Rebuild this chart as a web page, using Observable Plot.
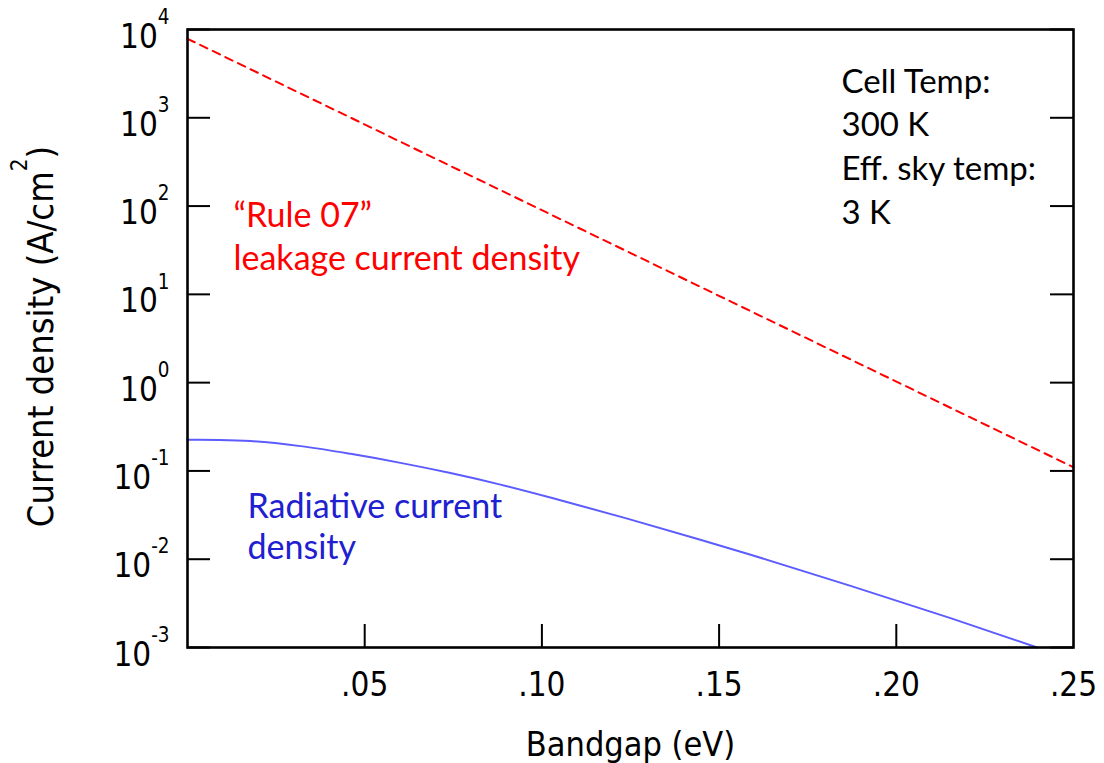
<!DOCTYPE html>
<html>
<head>
<meta charset="utf-8">
<script src="https://cdn.jsdelivr.net/npm/d3@7"></script>
<script src="https://cdn.jsdelivr.net/npm/@observablehq/plot@0.6"></script>
<style>
  body { margin: 0; background: #fff; }
</style>
</head>
<body>
<div id="chart"></div>
<script>
// Radiative dark current density vs bandgap (cell 300 K, sky 3 K)
const bandgapRad = [0, 0.0088, 0.0178, 0.0319, 0.046, 0.0601, 0.0742, 0.0883, 0.1024, 0.1236, 0.1447, 0.1589, 0.1871, 0.2153, 0.2398];
const radiative  = [0.2254, 0.2237, 0.2176, 0.1910, 0.1561, 0.1234, 0.0946, 0.0700, 0.0500, 0.0292, 0.01663, 0.01125, 0.00499, 0.00215, 0.001];

// "Rule 07" empirical leakage current density
const bandgapRule = [0, 0.25];
const rule07      = [7850, 0.11];

// Axis ticks
const yTicks      = [1e-3, 1e-2, 1e-1, 1e0, 1e1, 1e2, 1e3, 1e4];
const yExponents  = [-3, -2, -1, 0, 1, 2, 3, 4];
const xTicks      = [0.05, 0.10, 0.15, 0.20, 0.25];
const xTickLabels = [".05", ".10", ".15", ".20", ".25"];

// Annotation texts
const conditionsText = "Cell Temp:\n300 K\nEff. sky temp:\n3 K";
const ruleText = "\u201CRule 07\u201D\nleakage current density";
const radText = "Radiative current\ndensity";
const xLabel = "Bandgap (eV)";
const yLabel = "Current density (A/cm^{2})";

const radRows  = bandgapRad.map((b, i) => ({bandgap: b, j: radiative[i]}));
const ruleRows = bandgapRule.map((b, i) => ({bandgap: b, j: rule07[i]}));
const yRows = yTicks.map((v, i) => ({v, label: `10^{${yExponents[i]}}`}));
const xRows = xTicks.map((v, i) => ({v, label: xTickLabels[i]}));

const W = 1104, H = 763;
const mL = 187, mR = 31, mT = 29, mB = 116;
const innerW = W - mL - mR, innerH = H - mT - mB;
const tickLen = 23;
const axisFont = "'DejaVu Sans Condensed', 'DejaVu Sans', sans-serif";

const chart = Plot.plot({
  width: W,
  height: H,
  marginLeft: mL,
  marginRight: mR,
  marginTop: mT,
  marginBottom: mB,
  style: {fontFamily: axisFont, background: "#fff", overflow: "visible"},
  x: {domain: [0, 0.25], axis: null},
  y: {type: "log", domain: [1e-3, 1e4], axis: null},
  marks: [
    Plot.line(radRows, {x: "bandgap", y: "j", stroke: "#5c5cff", strokeWidth: 2, curve: "monotone-x"}),
    Plot.line(ruleRows, {x: "bandgap", y: "j", stroke: "#ff0000", strokeWidth: 2, strokeDasharray: "8,6"}),
    // inward ticks
    Plot.tickY(yTicks, {stroke: "#000", strokeWidth: 2, insetRight: innerW - tickLen}),
    Plot.tickY(yTicks, {stroke: "#000", strokeWidth: 2, insetLeft: innerW - tickLen}),
    Plot.tickX(xTicks.slice(0, -1), {stroke: "#000", strokeWidth: 2, insetTop: innerH - tickLen}),
    Plot.frame({stroke: "#000", strokeWidth: 2.6}),
    // tick labels
    Plot.text(yRows, {y: "v", text: "label", frameAnchor: "left", textAnchor: "end",
      lineAnchor: "bottom", dx: -18, dy: 18, fontSize: 33, fill: "#000"}),
    Plot.text(xRows, {x: "v", text: "label", frameAnchor: "bottom", lineAnchor: "bottom",
      dy: 48, fontSize: 33, fill: "#000"}),
    // axis titles
    Plot.text([xLabel], {text: d => d, frameAnchor: "bottom", lineAnchor: "bottom",
      dy: 108, fontSize: 34, fill: "#000"}),
    Plot.text([yLabel], {text: d => d, frameAnchor: "left", textAnchor: "middle", rotate: -90,
      lineAnchor: "bottom", dx: -135, dy: -2, fontSize: 36, fill: "#000"}),
    // annotations
    Plot.text([conditionsText], {text: d => d, frameAnchor: "top-left", textAnchor: "start",
      lineAnchor: "top", lineHeight: 44 / 33, dx: 654, dy: 92 - mT - 0.71 * 44,
      fontSize: 33, fontFamily: "Lato", fill: "#000"}),
    Plot.text([ruleText], {text: d => d, frameAnchor: "top-left", textAnchor: "start",
      lineAnchor: "top", lineHeight: 44 / 34, dx: 46, dy: 226 - mT - 0.71 * 44,
      fontSize: 34, fontFamily: "Lato", fill: "#ff0000"}),
    Plot.text([radText], {text: d => d, frameAnchor: "top-left", textAnchor: "start",
      lineAnchor: "top", lineHeight: 42 / 34, dx: 60, dy: 517 - mT - 0.71 * 42,
      fontSize: 34, fontFamily: "Lato", fill: "#2020d0"})
  ]
});

// Turn "^{...}" markup into raised, smaller tspans
function raiseExponents(svg) {
  const ns = "http://www.w3.org/2000/svg";
  for (const t of svg.querySelectorAll("text")) {
    const s = t.textContent;
    if (!s.includes("^{")) continue;
    const host = t.closest("[font-size]");
    const fs = host ? parseFloat(host.getAttribute("font-size")) : 33;
    const supSize = 0.62 * fs, rise = 0.72 * fs;
    const parts = s.split(/(\^\{[^}]*\})/).filter(Boolean);
    t.textContent = "";
    let raised = false;
    for (const p of parts) {
      const ts = document.createElementNS(ns, "tspan");
      const sup = p.startsWith("^{");
      ts.textContent = sup ? p.slice(2, -1) : p;
      if (sup) {
        ts.setAttribute("font-size", supSize);
        ts.setAttribute("dy", -rise);
        raised = true;
      } else if (raised) {
        ts.setAttribute("dy", rise);
        raised = false;
      }
      t.appendChild(ts);
    }
  }
}
raiseExponents(chart);

document.getElementById("chart").appendChild(chart);
</script>
</body>
</html>
